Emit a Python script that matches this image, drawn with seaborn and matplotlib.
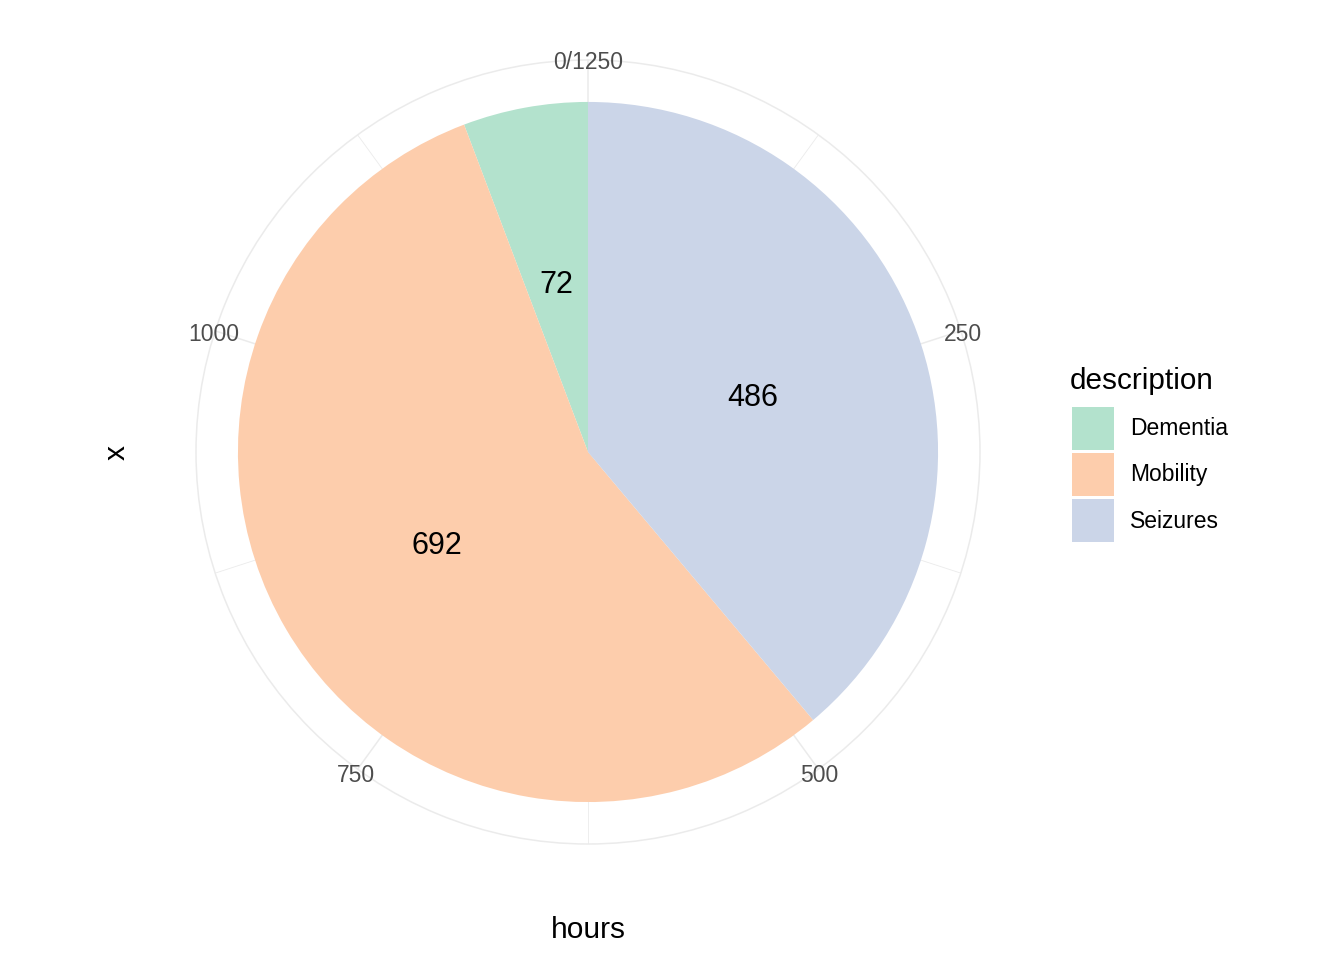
import numpy as np
import matplotlib
matplotlib.use("Agg")
import matplotlib.pyplot as plt
import matplotlib.transforms as mtransforms
import seaborn as sns
from matplotlib.patches import Patch

# data
descriptions = ["Dementia", "Mobility", "Seizures"]
hours = [72, 692, 486]
tick_values = [0, 250, 500, 750, 1000]
minor_values = [125, 375, 625, 875, 1125]

sns.set_theme(style="white")
plt.rcParams["font.family"] = ["Liberation Sans", "DejaVu Sans"]

palette = sns.color_palette("Pastel2", len(descriptions))
total = sum(hours)
to_rad = lambda v: np.asarray(v) * 2 * np.pi / total

# ggplot stacks the first level on top -> reversed order from 0
starts = {}
acc = 0
for name, h in zip(descriptions[::-1], hours[::-1]):
    starts[name] = acc
    acc += h

fig = plt.figure(figsize=(13.44, 9.6), dpi=100)
ax = fig.add_axes([196 / 1344, 116 / 960, 784 / 1344, 784 / 960], projection="polar")
ax.set_theta_zero_location("N")
ax.set_theta_direction(-1)
ax.set_ylim(0, 1)
pie_r = 0.893
shifted = mtransforms.offset_copy(ax.transData, fig=fig, y=-2, units="dots")

for name, h, col in zip(descriptions, hours, palette):
    ax.bar(to_rad(starts[name]), pie_r, width=to_rad(h), bottom=0,
           align="edge", color=col, linewidth=0, zorder=2)
    mid = to_rad(starts[name] + h / 2)
    ax.text(mid, pie_r / 2, str(h), ha="center", va="center_baseline",
            fontsize=22, color="black", zorder=3, transform=shifted)

# grid
ax.set_xticks(to_rad(tick_values))
ax.set_xticks(to_rad(minor_values), minor=True)
ax.set_xticklabels([])
ax.set_yticks([])
ax.grid(which="major", axis="x", color="#EBEBEB", linewidth=1.1, zorder=0)
ax.grid(which="minor", axis="x", color="#EBEBEB", linewidth=0.6, zorder=0)
ax.tick_params(axis="x", which="both", length=0)
ax.spines["polar"].set_color("#EBEBEB")
ax.spines["polar"].set_linewidth(1.1)
ax.set_axisbelow(True)

for v in tick_values:
    lab = f"0/{total}" if v == 0 else str(v)
    ax.text(to_rad(v), 1.005, lab, ha="center", va="center_baseline", fontsize=16.5,
            color="#4D4D4D", clip_on=False, zorder=4, transform=shifted)

# axis titles
fig.text(117 / 1344, 1 - 452 / 960, "x", rotation=90, ha="center", va="center",
         fontsize=21.5, color="black")
fig.text(588 / 1344, 1 - 930 / 960, "hours", ha="center", va="center",
         fontsize=21.5, color="black")

# legend
fig.text(1070 / 1344, 1 - 378 / 960, "description", ha="left", va="center_baseline",
         fontsize=21.4, color="black")
handles = [Patch(facecolor=c, edgecolor="none") for c in palette]
leg = fig.legend(handles, descriptions,
                 loc="upper left", bbox_to_anchor=(1072 / 1344, 1 - 407 / 960),
                 frameon=False, fontsize=16.5,
                 handlelength=1.85, handleheight=2.5, labelspacing=0.14,
                 handletextpad=0.67, borderpad=0, borderaxespad=0,
                 labelcolor="black")

fig.savefig("out.png", dpi=100, facecolor="white")
